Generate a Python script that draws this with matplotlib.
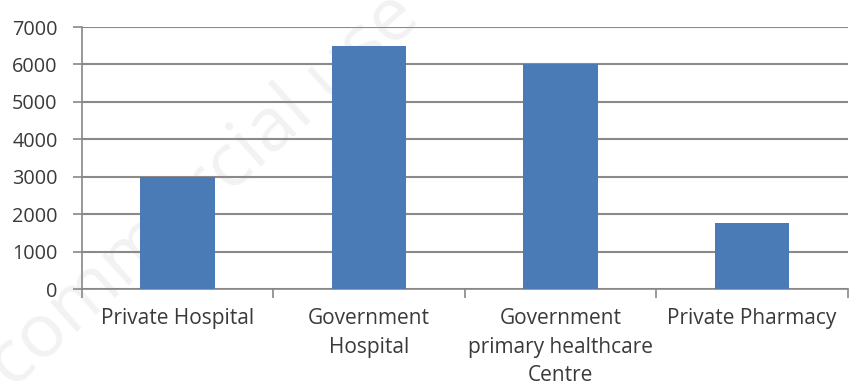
import matplotlib.pyplot as plt

categories = ["Private Hospital", "Government\nHospital",
              "Government\nprimary healthcare\nCentre", "Private Pharmacy"]
values = [3000, 6500, 6000, 1770]
yticks = [0, 1000, 2000, 3000, 4000, 5000, 6000, 7000]

plt.rcParams["font.family"] = ["Open Sans", "DejaVu Sans"]

fig = plt.figure(figsize=(8.52, 3.87), dpi=100)

# faint watermark behind the chart
fig.text(0.165, 0.36, "Non-commercial use", rotation=42, fontsize=54,
         color="#f2f2f2", ha="center", va="center", zorder=-5)

ax = fig.add_axes([0.0962, 0.2532, 0.8988, 0.6770])
ax.patch.set_alpha(0)

x = range(len(categories))
ax.bar(x, values, width=0.39, color="#4a7bb7", zorder=3)

ax.set_xlim(-0.5, len(categories) - 0.5)
ax.set_ylim(0, 7000)
ax.set_yticks(yticks)
ax.set_yticklabels([str(v) for v in yticks], fontsize=14.3, color="#3a3a3a")
ax.set_xticks(list(x))
ax.set_xticklabels(categories, fontsize=15, color="#3a3a3a", linespacing=1.45, va="top")
ax.tick_params(axis="x", length=0, pad=14)
ax.tick_params(axis="y", length=6.5, color="#8a8684", width=1.2, pad=11)

# boundary ticks between categories on the x axis
ax.set_xticks([i - 0.5 for i in range(len(categories) + 1)], minor=True)
ax.tick_params(axis="x", which="minor", length=6.5, color="#8a8684", width=1.2, direction="out")

ax.grid(axis="y", color="#8d8987", linewidth=1.5, zorder=0)
for side in ["top", "right"]:
    ax.spines[side].set_visible(False)
ax.spines["left"].set_color("#8a8684")
ax.spines["bottom"].set_color("#8a8684")
ax.spines["left"].set_linewidth(1.2)
ax.spines["bottom"].set_linewidth(1.2)

fig.savefig("out.png", dpi=100)
